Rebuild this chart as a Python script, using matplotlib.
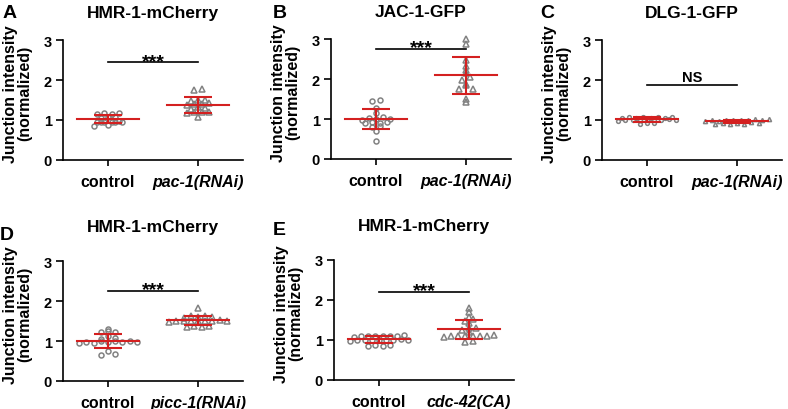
import numpy as np
import matplotlib.pyplot as plt

plt.rcParams['font.family'] = ['Liberation Sans', 'DejaVu Sans']
plt.rcParams['font.weight'] = 'bold'
plt.rcParams['axes.labelweight'] = 'bold'

# values (normalized junction intensity)
control_a = [1.16, 1.17, 1.16, 1.18, 1.07, 1.08, 1.06, 0.95, 0.96, 0.94,
             0.96, 0.97, 0.95, 0.96, 0.86, 0.88]
pac1_a = [1.77, 1.75, 1.39, 1.43, 1.41, 1.38, 1.50, 1.50, 1.47, 1.30,
          1.27, 1.33, 1.20, 1.18, 1.21, 1.20, 1.08]
control_b = [1.46, 1.47, 1.28, 1.14, 1.02, 1.00, 1.04, 0.98, 1.01, 0.89,
             0.91, 0.93, 0.92, 0.81, 0.82, 0.71, 0.45]
pac1_b = [3.00, 2.88, 2.47, 2.33, 2.15, 2.23, 1.98, 2.05, 1.85, 1.87,
          1.75, 1.76, 1.50, 1.42]
control_c = [1.06, 1.07, 1.06, 1.08, 1.06, 1.07, 1.06, 1.07, 1.00, 1.01,
             0.99, 1.02, 0.98, 1.00, 1.01, 0.99, 1.00, 0.92, 0.91, 0.93]
pac1_c = [1.00, 1.01, 0.99, 1.02, 0.98, 1.00, 1.01, 0.99, 1.03, 0.97,
          0.92, 0.91, 0.93, 0.90, 0.92, 0.94, 0.91]
control_d = [1.06, 0.97, 0.98, 0.96, 0.99, 0.97, 0.96, 0.98, 1.00, 0.99,
             1.08, 1.13, 1.23, 1.22, 1.24, 1.31, 0.74, 0.66, 0.67]
picc1_d = [1.82, 1.63, 1.61, 1.60, 1.62, 1.58, 1.51, 1.50, 1.49, 1.52,
           1.50, 1.48, 1.51, 1.49, 1.50, 1.36, 1.37, 1.36, 1.38]
control_e = [1.10, 1.11, 1.09, 1.08, 1.11, 1.12, 1.10, 1.09, 1.00, 1.01,
             0.99, 1.02, 0.98, 1.00, 1.01, 0.99, 1.00, 0.88, 0.86, 0.86,
             0.87]
cdc42_e = [1.80, 1.69, 1.57, 1.53, 1.48, 1.42, 1.31, 1.26, 1.29, 1.21,
           1.10, 1.09, 1.08, 1.11, 1.10, 1.09, 1.11, 1.12, 0.96, 0.97]

panel_letters = ['A', 'B', 'C', 'D', 'E']
titles = ['HMR-1-mCherry', 'JAC-1-GFP', 'DLG-1-GFP', 'HMR-1-mCherry',
          'HMR-1-mCherry']
test_labels = ['pac-1(RNAi)', 'pac-1(RNAi)', 'pac-1(RNAi)', 'picc-1(RNAi)',
               'cdc-42(CA)']
sig_labels = ['***', '***', 'NS', '***', '***']
sig_heights = [2.44, 2.75, 1.87, 2.26, 2.21]
groups = [(control_a, pac1_a), (control_b, pac1_b), (control_c, pac1_c),
          (control_d, picc1_d), (control_e, cdc42_e)]

GRAY = '#828282'
RED = '#d42020'
W, H = 788, 410


def row_scatter_x(ax, x0, values, pitch, row_height=0.1):
    """Prism-style layout: values grouped into rows (row_height in data
    units), each row centred on x0 with markers pitch pixels apart."""
    values = np.asarray(values, dtype=float)
    pts = ax.transData.transform(np.column_stack([np.full(len(values), x0),
                                                  values]))
    rows = np.round(values / row_height).astype(int)
    xs = np.empty(len(values))
    for r in np.unique(rows):
        idx = np.where(rows == r)[0]
        idx = idx[np.argsort(values[idx])]
        n = len(idx)
        order = sorted(range(n), key=lambda j: (j % 2, j))
        offs = (np.arange(n) - (n - 1) / 2) * pitch
        for slot, j in zip(order, range(n)):
            xs[idx[j]] = pts[idx[j], 0] + offs[slot]
    back = ax.transData.inverted().transform(np.column_stack([xs, pts[:, 1]]))
    return back[:, 0]


fig = plt.figure(figsize=(W / 100, H / 100), dpi=100)

# left, bottom (pixels) of each axes, title pad, letter position
boxes = [(63, 161), (331, 160), (602, 161), (63, 382), (334, 381)]
title_pads = [16.5, 16.5, 16.5, 21.5, 21.5]
letter_pos = [(3, 18), (273, 18), (540, 18), (0, 240), (273, 235)]

for k in range(5):
    left, bottom = boxes[k]
    ax = fig.add_axes([left / W, 1 - bottom / H, 180 / W, 120 / H])
    ax.set_xlim(-0.5, 1.5)
    ax.set_ylim(0, 3)
    for side in ['top', 'right']:
        ax.spines[side].set_visible(False)
    for side in ['left', 'bottom']:
        ax.spines[side].set_linewidth(1.2)

    small = (k == 2)
    ms = 2.7 if small else 3.6
    for x0, vals, mk in [(0, groups[k][0], 'o'), (1, groups[k][1], '^')]:
        xs = row_scatter_x(ax, x0, vals, 7.2)
        ax.plot(xs, vals, ls='none', marker=mk, mfc='none', mec=GRAY,
                ms=ms + (0.3 if mk == '^' else 0), mew=1.1, clip_on=False,
                zorder=2)
        m = np.mean(vals)
        s = np.std(vals, ddof=1)
        ax.plot([x0 - 0.34, x0 + 0.34], [m, m], color=RED, lw=1.5, zorder=3)
        ax.errorbar(x0, m, yerr=s, color=RED, elinewidth=1.5, capsize=10,
                    capthick=1.5, zorder=3)

    h = sig_heights[k]
    ax.plot([0, 1], [h, h], color='black', lw=1.2)
    if sig_labels[k] == 'NS':
        ax.annotate('NS', xy=(0.5, h), xytext=(0, 3), textcoords='offset points',
                    ha='center', va='baseline', fontsize=10.5)
    else:
        ax.annotate('***', xy=(0.5, h), xytext=(0, -2.3),
                    textcoords='offset points', ha='center', va='baseline',
                    fontsize=14)

    ax.set_yticks([0, 1, 2, 3])
    ax.set_xticks([0, 1])
    ax.set_xticklabels(['control', test_labels[k]])
    ax.get_xticklabels()[1].set_fontstyle('italic')
    ax.tick_params(axis='y', direction='out', length=5, width=1.2,
                   labelsize=10.5, pad=3)
    ax.tick_params(axis='x', direction='out', length=4, width=1.2,
                   labelsize=11.5, pad=6)
    ax.set_ylabel('Junction intensity\n(normalized)', fontsize=11.5,
                  fontweight='bold', linespacing=0.95)
    ax.yaxis.set_label_coords(-0.17, 0.56)
    ax.set_title(titles[k], fontsize=12.5, fontweight='bold',
                 pad=title_pads[k])

    lx, ly = letter_pos[k]
    fig.text(lx / W, 1 - ly / H, panel_letters[k], fontsize=14,
             fontweight='bold', ha='left', va='baseline')

fig.savefig('out.png', dpi=100)
